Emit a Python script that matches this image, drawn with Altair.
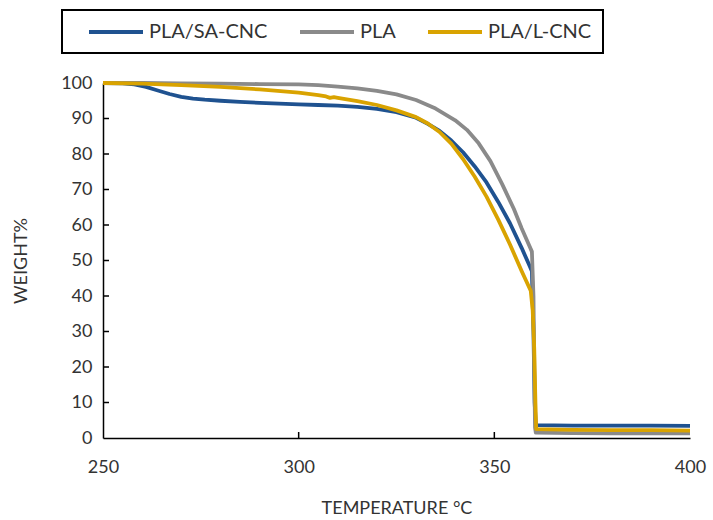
import altair as alt
import pandas as pd

# Thermogravimetric curves: temperature (°C) and remaining weight (%)
sa_temp = [250, 255, 258, 261, 264, 267, 270, 273, 276, 280, 285, 290, 295, 300,
           305, 310, 315, 320, 325, 330, 333, 336, 339, 342, 345, 348, 351, 354,
           357, 359, 359.6, 360.0, 360.3, 360.6, 370, 380, 390, 400]
sa_weight = [100, 99.9, 99.6, 98.9, 97.9, 96.9, 96.1, 95.6, 95.3, 95.0, 94.7, 94.4, 94.2, 94.0,
             93.8, 93.6, 93.3, 92.7, 91.8, 90.2, 88.5, 86.5, 83.8, 80.5, 76.5, 72.0, 66.5, 60.5,
             53.5, 48.5, 47.0, 30.0, 10.0, 3.6, 3.5, 3.5, 3.5, 3.4]

pla_temp = [250, 260, 270, 280, 290, 300, 305, 310, 315, 320, 325, 330, 335, 340,
            343, 346, 349, 352, 355, 357, 359, 359.6, 360.0, 360.2, 360.4, 360.6,
            370, 380, 390, 400]
pla_weight = [100, 100, 99.9, 99.8, 99.7, 99.6, 99.4, 99.0, 98.5, 97.8, 96.8, 95.2, 92.8, 89.5,
              86.8, 83.0, 78.0, 71.5, 64.5, 59.0, 54.0, 52.5, 40.0, 20.0, 3.0, 1.5,
              1.4, 1.3, 1.3, 1.3]

lcnc_temp = [250, 260, 270, 280, 290, 300, 305, 307, 308, 309, 310, 315, 320, 325,
             330, 333, 336, 339, 342, 345, 348, 351, 354, 357, 359.3, 359.8, 360.2,
             360.5, 360.7, 370, 380, 390, 400]
lcnc_weight = [100, 99.8, 99.4, 98.9, 98.2, 97.3, 96.6, 96.2, 95.8, 96.0, 95.8, 94.9, 93.8, 92.3,
               90.4, 88.6, 86.2, 82.9, 78.6, 73.6, 68.0, 61.5, 54.5, 47.0, 41.5, 36.0, 25.0,
               10.0, 2.5, 2.3, 2.2, 2.2, 2.1]

series_names = ["PLA/SA-CNC", "PLA", "PLA/L-CNC"]
series_colors = ["#1F5290", "#8A8A8A", "#D9A300"]

y_ticks = [0, 10, 20, 30, 40, 50, 60, 70, 80, 90, 100]
x_ticks = [250, 300, 350, 400]
y_inner_ticks = [10, 20, 30, 40, 50, 60, 70, 80, 90]
x_inner_ticks = [300, 350]

rows = []
for name, temps, weights in zip(series_names,
                                [sa_temp, pla_temp, lcnc_temp],
                                [sa_weight, pla_weight, lcnc_weight]):
    for i, (t, w) in enumerate(zip(temps, weights)):
        rows.append({"series": name, "T": t, "W": w, "i": i})
curves = pd.DataFrame(rows)

FONT = "Lato"
TEXT = "#333333"
W, H = 587, 355

x_enc = alt.X("T:Q", scale=alt.Scale(domain=[250, 400], nice=False, zero=False),
              axis=alt.Axis(values=x_ticks, title="TEMPERATURE °C", tickSize=0,
                            labelPadding=20, titlePadding=23, grid=False,
                            labelFlush=False))
y_enc = alt.Y("W:Q", scale=alt.Scale(domain=[0, 100], nice=False),
              axis=alt.Axis(values=y_ticks, title="WEIGHT%", tickSize=0,
                            labelPadding=11, titlePadding=30, grid=False))

# Long legend line: unit = half the nominal symbol size, drawn from the
# symbol's left edge well past its right edge; labels pushed clear of it.
LEGEND_LINE = "M-1,0L5,0"
color_enc = alt.Color(
    "series:N",
    scale=alt.Scale(domain=series_names, range=series_colors),
    legend=alt.Legend(
        title="\u00a0", titleOrient="left", titleFontSize=10, titlePadding=14,
        orient="none", direction="horizontal", columns=3,
        legendX=-41, legendY=-73, symbolType=LEGEND_LINE, symbolSize=324,
        symbolStrokeWidth=4, symbolFillColor="transparent",
        labelFontSize=20, labelFont=FONT, labelColor=TEXT,
        labelOffset=40, columnPadding=24, padding=11, strokeColor="#000000",
    ),
)

layers = []
for name in series_names:
    layers.append(
        alt.Chart(curves)
        .transform_filter(alt.datum.series == name)
        .mark_line(strokeWidth=3.8, strokeCap="butt", strokeJoin="round")
        .encode(x=x_enc, y=y_enc, color=color_enc, order="i:Q")
    )

# Inward-pointing tick marks on both axes (same fields and axes as the curves)
y_tick_layer = alt.Chart(pd.DataFrame({"W": y_inner_ticks})).mark_rule(
    color="#000000", strokeWidth=1.5
).encode(y=y_enc, x=alt.value(0), x2=alt.value(6))
x_tick_layer = alt.Chart(pd.DataFrame({"T": x_inner_ticks})).mark_rule(
    color="#000000", strokeWidth=1.5
).encode(x=x_enc, y=alt.value(H), y2=alt.value(H - 6))

chart = (
    alt.layer(*layers, y_tick_layer, x_tick_layer)
    .properties(width=W, height=H, background="#ffffff",
                autosize=alt.AutoSizeParams(type="none"),
                padding={"left": 103, "top": 83, "right": 23, "bottom": 82})
    .configure_view(stroke=None)
    .configure_axis(domainColor="#000000", domainWidth=1.5,
                    labelFont=FONT, labelFontSize=18, labelColor=TEXT,
                    titleFont=FONT, titleFontSize=18, titleColor=TEXT,
                    titleFontWeight="normal")
    .configure_legend(strokeWidth=2)
)

chart.save("out.html", embed_options={"renderer": "svg", "actions": False})
